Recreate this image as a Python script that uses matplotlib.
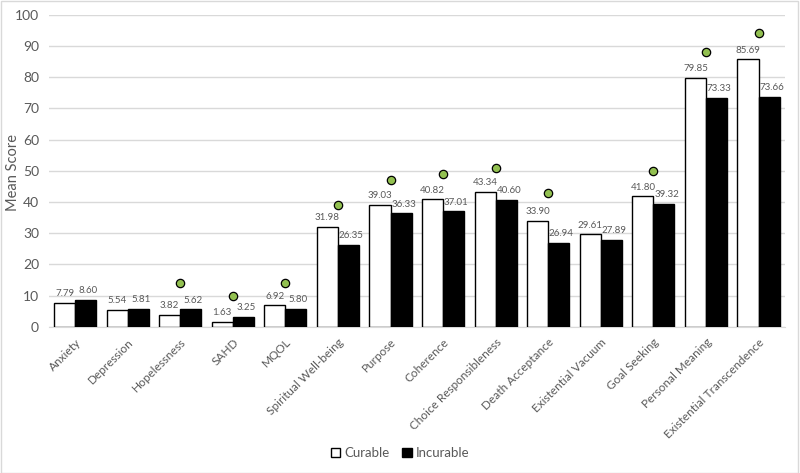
import matplotlib
matplotlib.use("Agg")
import matplotlib.pyplot as plt
import numpy as np

plt.rcParams['font.family'] = ['Lato', 'DejaVu Sans']

# Donnees
categories = ["Anxiety", "Depression", "Hopelessness", "SAHD", "MQOL",
              "Spiritual Well-being", "Purpose", "Coherence",
              "Choice Responsibleness", "Death Acceptance", "Existential Vacuum",
              "Goal Seeking", "Personal Meaning", "Existential Transcendence"]
curable = [7.79, 5.54, 3.82, 1.63, 6.92, 31.98, 39.03, 40.82, 43.34, 33.90,
           29.61, 41.80, 79.85, 85.69]
incurable = [8.60, 5.81, 5.62, 3.25, 5.80, 26.35, 36.33, 37.01, 40.60, 26.94,
             27.89, 39.32, 73.33, 73.66]
# points verts (significativite), nan = pas de point
signif = [np.nan, np.nan, 14, 10, 14, 39, 47, 49, 51, 43, np.nan, 50, 88, 94]

grey = '#595959'

fig = plt.figure(figsize=(8, 4.73), dpi=100)
ax = fig.add_axes([0.061, 0.309, 0.92, 0.66])

x = np.arange(len(categories))
w = 0.4
b1 = ax.bar(x - w/2, curable, w, color='white', edgecolor='black', linewidth=1.0,
            label='Curable', zorder=3)
b2 = ax.bar(x + w/2, incurable, w, color='black', edgecolor='black', linewidth=1.0,
            label='Incurable', zorder=3)

for xi, v in zip(x - w/2, curable):
    ax.text(xi, v + 1.5, f"{v:.2f}", ha='center', va='bottom', fontsize=7, color=grey)
for xi, v in zip(x + w/2, incurable):
    ax.text(xi + 0.05, v + 1.5, f"{v:.2f}", ha='center', va='bottom', fontsize=7, color=grey)

ax.plot(x, signif, 'o', markersize=6, markerfacecolor='#92c050',
        markeredgecolor='black', markeredgewidth=0.9, linestyle='none', zorder=4)

ax.set_xlim(-0.5, len(categories) - 0.5)
ax.set_ylim(0, 100)
ax.set_yticks(np.arange(0, 101, 10))
ax.yaxis.grid(True, color='#d9d9d9', linewidth=1.0, zorder=0)
ax.set_axisbelow(True)
for s in ['top', 'right', 'left']:
    ax.spines[s].set_visible(False)
ax.spines['bottom'].set_color('#d9d9d9')
ax.tick_params(axis='y', length=0, labelsize=10, colors=grey, pad=7)
ax.tick_params(axis='x', length=0, labelsize=8.5, colors=grey, pad=7)
ax.set_xticks(x)
ax.set_xticklabels(categories, rotation=45, ha='right', rotation_mode='anchor')
fig.text(0.016, 0.635, 'Mean Score', rotation=90, ha='center', va='center',
         fontsize=10.5, color=grey)

fig.legend(handles=[b1, b2], loc='center', bbox_to_anchor=(0.5, 0.042), ncol=2,
           frameon=False, fontsize=9.5, labelcolor=grey, handlelength=0.7,
           handleheight=0.7, handletextpad=0.3, columnspacing=1.0)

fig.patches.append(plt.Rectangle((0.001, 0.001), 0.997, 0.997, transform=fig.transFigure,
                                 fill=False, edgecolor='#d9d9d9', linewidth=1.0))

fig.savefig('out.png', dpi=100)
